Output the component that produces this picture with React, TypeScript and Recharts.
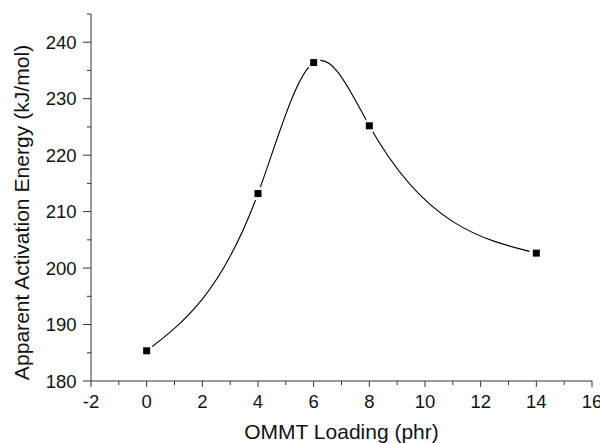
import React from 'react';
import { LineChart, Line, XAxis, YAxis } from 'recharts';

const loading = [0, 4, 6, 8, 14];
const energy = [185.35, 213.2, 236.4, 225.2, 202.65];
const xTicks = [-2, -1, 0, 1, 2, 3, 4, 5, 6, 7, 8, 9, 10, 11, 12, 13, 14, 15, 16];
const yTicks = [180, 185, 190, 195, 200, 205, 210, 215, 220, 225, 230, 235, 240, 245];

const data = loading.map((x, i) => ({ x, y: energy[i] }));

const FONT = '"Liberation Sans", Arial, sans-serif';
const AXIS_COLOR = '#333';

// Natural cubic spline parameterised by x (like Origin's "Spline" connector)
function splineX(context: any) {
  let xs: number[] = [];
  let ys: number[] = [];
  let line = NaN;
  return {
    areaStart() { line = 0; },
    areaEnd() { line = NaN; },
    lineStart() { xs = []; ys = []; },
    lineEnd() {
      const n = xs.length;
      if (n) {
        if (line) context.lineTo(xs[0], ys[0]);
        else context.moveTo(xs[0], ys[0]);
        if (n === 2) {
          context.lineTo(xs[1], ys[1]);
        } else if (n > 2) {
          const h: number[] = [];
          const s: number[] = [];
          for (let i = 0; i < n - 1; i++) {
            h[i] = xs[i + 1] - xs[i];
            s[i] = (ys[i + 1] - ys[i]) / h[i];
          }
          const m = n - 2;
          const a: number[] = [], b: number[] = [], c: number[] = [], r: number[] = [];
          for (let k = 0; k < m; k++) {
            const i = k + 1;
            a[k] = h[i - 1];
            b[k] = 2 * (h[i - 1] + h[i]);
            c[k] = h[i];
            r[k] = 6 * (s[i] - s[i - 1]);
          }
          for (let k = 1; k < m; k++) {
            const w = a[k] / b[k - 1];
            b[k] -= w * c[k - 1];
            r[k] -= w * r[k - 1];
          }
          const sol: number[] = new Array(m).fill(0);
          sol[m - 1] = r[m - 1] / b[m - 1];
          for (let k = m - 2; k >= 0; k--) sol[k] = (r[k] - c[k] * sol[k + 1]) / b[k];
          const M = [0, ...sol, 0];
          const d: number[] = [];
          for (let i = 0; i < n - 1; i++) d[i] = s[i] - (h[i] * (2 * M[i] + M[i + 1])) / 6;
          d[n - 1] = s[n - 2] + (h[n - 2] * (M[n - 2] + 2 * M[n - 1])) / 6;
          for (let i = 0; i < n - 1; i++) {
            context.bezierCurveTo(
              xs[i] + h[i] / 3, ys[i] + (d[i] * h[i]) / 3,
              xs[i + 1] - h[i] / 3, ys[i + 1] - (d[i + 1] * h[i]) / 3,
              xs[i + 1], ys[i + 1]
            );
          }
        }
      }
      if (line || (line !== 0 && n === 1)) context.closePath();
      line = 1 - line;
    },
    point(x: number, y: number) { xs.push(+x); ys.push(+y); },
  };
}

const YTick = (props: any) => {
  const { x, y, payload } = props;
  const major = payload.value % 10 === 0;
  return (
    <g>
      <line x1={x - (major ? 8 : 4)} x2={x} y1={y} y2={y} stroke={AXIS_COLOR} strokeWidth={1} />
      {major && (
        <text x={x - 14.5} y={y} dy="0.355em" textAnchor="end" fontSize={18.5} fontFamily={FONT} fill="#111">
          {payload.value}
        </text>
      )}
    </g>
  );
};

const XTick = (props: any) => {
  const { x, y, payload } = props;
  const major = payload.value % 2 === 0;
  return (
    <g>
      <line x1={x} x2={x} y1={y} y2={y + (major ? 6 : 4)} stroke={AXIS_COLOR} strokeWidth={1} />
      {major && (
        <text x={x} y={y + 26.5} textAnchor="middle" fontSize={18.5} fontFamily={FONT} fill="#111">
          {payload.value}
        </text>
      )}
    </g>
  );
};

const YTitle = (props: any) => {
  const { viewBox } = props;
  const cx = viewBox.x + 28.5;
  const cy = viewBox.y + viewBox.height / 2 + 15;
  return (
    <text x={cx} y={cy} transform={`rotate(-90, ${cx}, ${cy})`} textAnchor="middle" fontSize={21.1} fontFamily={FONT} fill="#111">
      Apparent Activation Energy (kJ/mol)
    </text>
  );
};

const XTitle = (props: any) => {
  const { viewBox } = props;
  const cx = viewBox.x + viewBox.width / 2;
  const cy = viewBox.y + 58;
  return (
    <text x={cx} y={cy} textAnchor="middle" fontSize={21} fontFamily={FONT} fill="#111">
      OMMT Loading (phr)
    </text>
  );
};

const SquareDot = (props: any) => {
  const { cx, cy, index } = props;
  if (cx == null || cy == null) return null;
  return (
    <g key={`dot-${index}`}>
      <circle cx={cx} cy={cy} r={7} fill="#fff" />
      <rect x={cx - 3.5} y={cy - 3.5} width={7} height={7} fill="#000" />
    </g>
  );
};

export default function App() {
  return (
    <div style={{ position: 'absolute', left: 0, top: 0, background: '#fff' }}>
      <LineChart width={600} height={443} data={data} margin={{ top: 14, right: 8, left: 0, bottom: 0 }}>
        <XAxis
          dataKey="x"
          type="number"
          domain={[-2, 16]}
          ticks={xTicks}
          interval={0}
          height={62}
          tickSize={0}
          tickMargin={0}
          tickLine={false}
          axisLine={{ stroke: AXIS_COLOR, strokeWidth: 1 }}
          tick={<XTick />}
          label={<XTitle />}
        />
        <YAxis
          type="number"
          domain={[180, 245]}
          ticks={yTicks}
          interval={0}
          width={91}
          tickSize={0}
          tickMargin={0}
          tickLine={false}
          axisLine={{ stroke: AXIS_COLOR, strokeWidth: 1 }}
          tick={<YTick />}
          label={<YTitle />}
        />
        <Line
          dataKey="y"
          type={splineX as any}
          stroke="#000"
          strokeWidth={1.1}
          dot={<SquareDot />}
          activeDot={false}
          isAnimationActive={false}
        />
      </LineChart>
    </div>
  );
}
